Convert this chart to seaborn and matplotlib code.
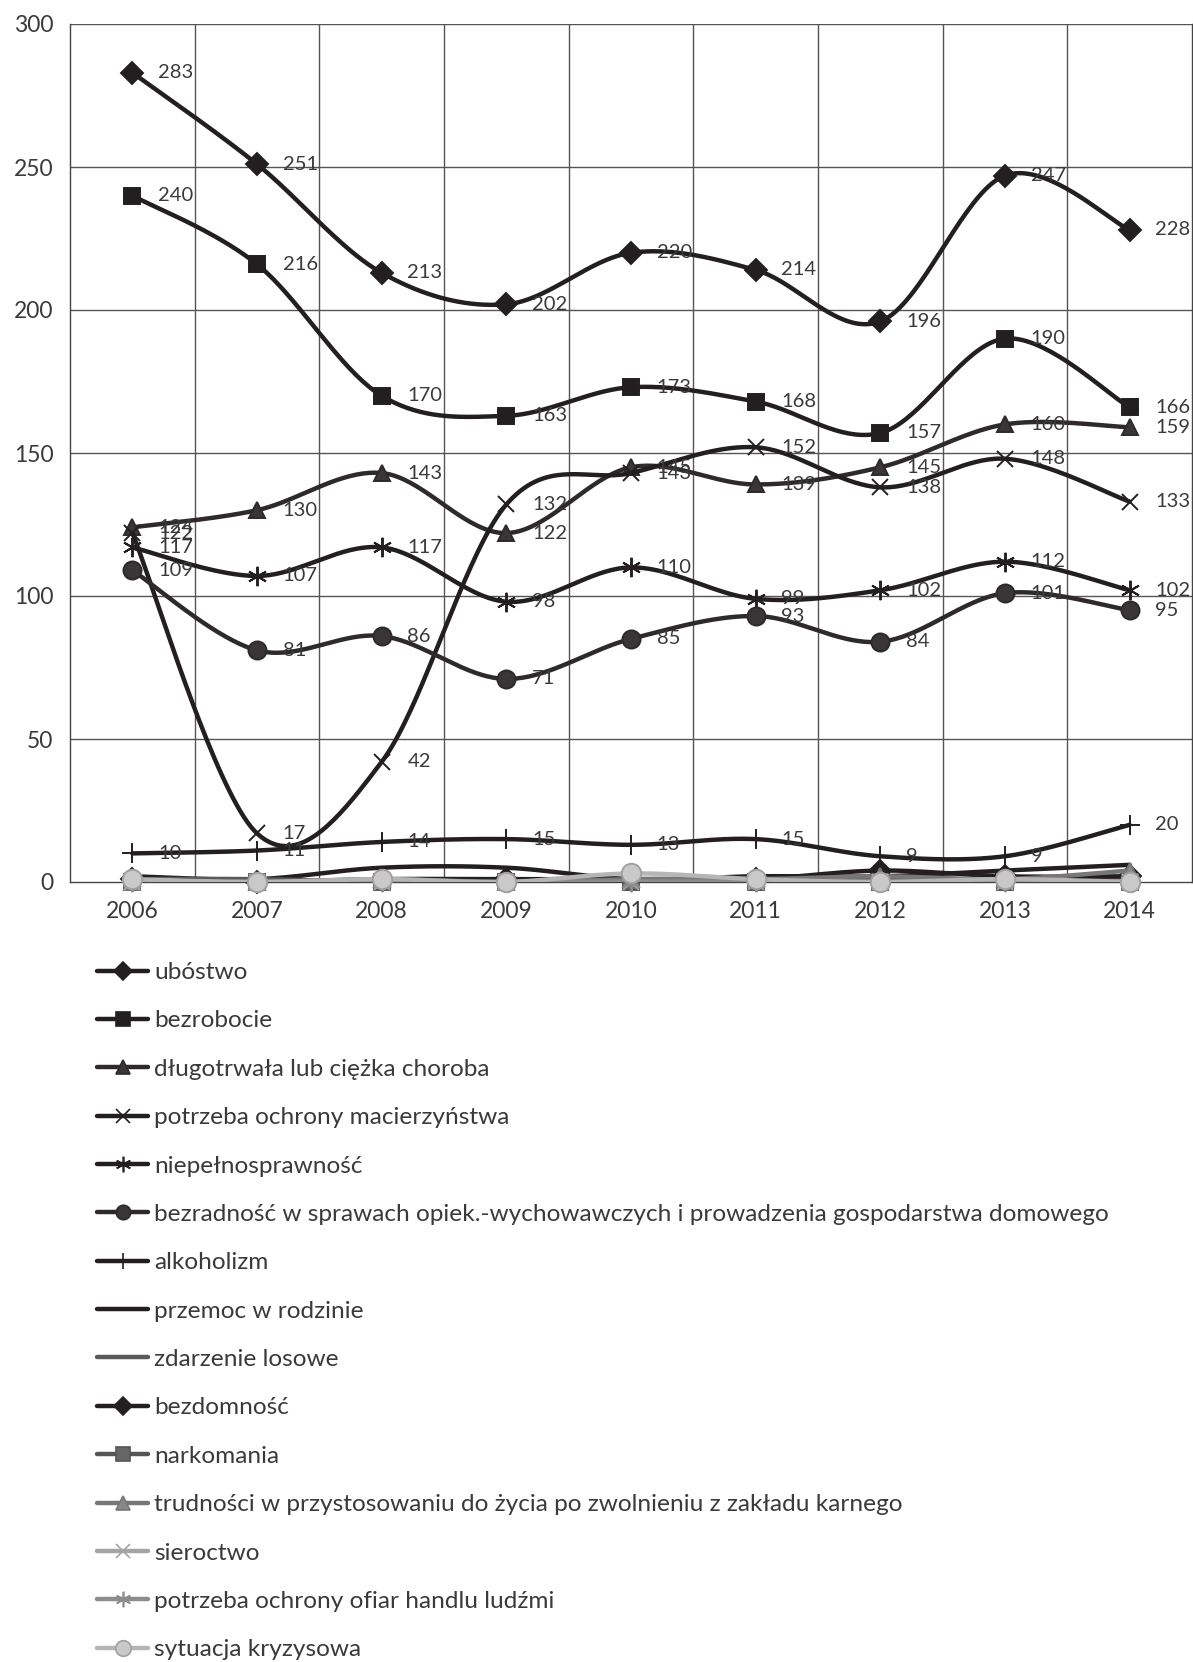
import numpy as np
import pandas as pd
import matplotlib
matplotlib.use("Agg")
import matplotlib.pyplot as plt
from matplotlib.lines import Line2D
import seaborn as sns

YEARS = ["2006", "2007", "2008", "2009", "2010", "2011", "2012", "2013", "2014"]

SERIES_NAMES = [
    "ubóstwo",
    "bezrobocie",
    "długotrwała lub ciężka choroba",
    "potrzeba ochrony macierzyństwa",
    "niepełnosprawność",
    "bezradność w sprawach opiek.-wychowawczych i prowadzenia gospodarstwa domowego",
    "alkoholizm",
    "przemoc w rodzinie",
    "zdarzenie losowe",
    "bezdomność",
    "narkomania",
    "trudności w przystosowaniu do życia po zwolnieniu z zakładu karnego",
    "sieroctwo",
    "potrzeba ochrony ofiar handlu ludźmi",
    "sytuacja kryzysowa",
]

ubostwo       = [283, 251, 213, 202, 220, 214, 196, 247, 228]
bezrobocie    = [240, 216, 170, 163, 173, 168, 157, 190, 166]
choroba       = [124, 130, 143, 122, 145, 139, 145, 160, 159]
macierzynstwo = [122, 17, 42, 132, 143, 152, 138, 148, 133]
niepelnospr   = [117, 107, 117, 98, 110, 99, 102, 112, 102]
bezradnosc    = [109, 81, 86, 71, 85, 93, 84, 101, 95]
alkoholizm    = [10, 11, 14, 15, 13, 15, 9, 9, 20]
przemoc       = [2, 1, 5, 5, 1, 2, 2, 4, 6]
zdarzenie     = [1, 1, 0, 0, 1, 1, 1, 1, 1]
bezdomnosc    = [1, 0, 1, 1, 1, 1, 4, 2, 2]
narkomania    = [0, 0, 0, 0, 0, 0, 0, 0, 0]
trudnosci     = [0, 0, 1, 0, 1, 1, 2, 1, 4]
sieroctwo     = [0, 0, 0, 0, 0, 0, 0, 0, 0]
handel        = [0, 0, 0, 0, 0, 0, 0, 0, 0]
kryzys        = [1, 0, 1, 0, 3, 1, 0, 1, 0]

ALL_VALUES = [ubostwo, bezrobocie, choroba, macierzynstwo, niepelnospr, bezradnosc,
              alkoholizm, przemoc, zdarzenie, bezdomnosc, narkomania, trudnosci,
              sieroctwo, handel, kryzys]
N_LABELED = 7

ASTER = (6, 2, 0)
# (kolor linii, marker, rozmiar, kolor wypelnienia, kolor krawedzi)
STYLES = [
    ("#231f20", "D", 11, "#231f20", "#231f20"),
    ("#231f20", "s", 12, "#231f20", "#231f20"),
    ("#2e2a2b", "^", 12, "#3a3637", "#2e2a2b"),
    ("#231f20", "x", 12, "none", "#231f20"),
    ("#231f20", ASTER, 14, "none", "#231f20"),
    ("#2e2a2b", "o", 13, "#3a3637", "#2e2a2b"),
    ("#231f20", "+", 15, "none", "#231f20"),
    ("#231f20", None, 0, "none", "#231f20"),
    ("#5a5a5a", None, 0, "none", "#5a5a5a"),
    ("#231f20", "D", 11, "#231f20", "#231f20"),
    ("#555555", "s", 12, "#666666", "#555555"),
    ("#777777", "^", 12, "#888888", "#777777"),
    ("#a5a5a5", "x", 12, "none", "#a5a5a5"),
    ("#8c8c8c", ASTER, 14, "none", "#8c8c8c"),
    ("#b5b5b5", "o", 14, "#c9c9c9", "#a0a0a0"),
]


def smooth(xs, ys, n=40):
    # wygladzenie jak w Excelu (Catmull-Rom -> Bezier)
    p = np.column_stack([xs, ys]).astype(float)
    pts = np.vstack([p[0], p, p[-1]])
    out = []
    t = np.linspace(0, 1, n)[:, None]
    for i in range(1, len(pts) - 2):
        p0, p1, p2, p3 = pts[i - 1], pts[i], pts[i + 1], pts[i + 2]
        c1 = p1 + (p2 - p0) / 6
        c2 = p2 - (p3 - p1) / 6
        seg = ((1 - t) ** 3) * p1 + 3 * ((1 - t) ** 2) * t * c1 + 3 * (1 - t) * t ** 2 * c2 + t ** 3 * p2
        out.append(seg if i == 1 else seg[1:])
    s = np.vstack(out)
    return s[:, 0], s[:, 1]


sns.set_theme(style="white")
plt.rcParams["font.family"] = ["Lato", "DejaVu Sans"]
TXT = "#3a3a3a"

fig = plt.figure(figsize=(11.93, 16.62), dpi=100)
ax = fig.add_axes([70 / 1193, 1 - 882 / 1662, 1122 / 1193, (882 - 24) / 1662])

x = np.arange(len(YEARS))
for k, (name, vals) in enumerate(zip(SERIES_NAMES, ALL_VALUES)):
    col, mk, ms, fc, ec = STYLES[k]
    sx, sy = smooth(x, vals)
    df = pd.DataFrame({"x": sx, "y": sy})
    sns.lineplot(data=df, x="x", y="y", sort=False, estimator=None, color=col,
                 lw=3.2, ax=ax, zorder=3 + k * 2)
    if mk is not None:
        ax.plot(x, vals, ls="none", marker=mk, ms=ms, mfc=fc, mec=ec, mew=1.4,
                zorder=4 + k * 2, clip_on=False)
    if k < N_LABELED:
        for xi, v in zip(x, vals):
            ax.annotate(str(v), (xi, v), xytext=(18.5, 0), textcoords="offset points",
                        va="center", ha="left", fontsize=14.5, color=TXT, zorder=40)

ax.set_xlim(-0.5, len(YEARS) - 0.5)
ax.set_ylim(0, 300)
ax.set_yticks(range(0, 301, 50))
ax.set_xticks(x)
ax.set_xticklabels(YEARS)
ax.set_xticks(np.arange(-0.5, len(YEARS), 1), minor=True)
ax.set_xlabel(""); ax.set_ylabel("")
ax.tick_params(axis="x", which="major", length=0, pad=14, labelsize=16.5, labelcolor=TXT)
ax.tick_params(axis="x", which="minor", length=6, width=1, color="#444444", direction="out")
ax.tick_params(axis="y", length=6, width=1, color="#444444", direction="out", pad=6,
               labelsize=16.5, labelcolor=TXT)
ax.grid(False)
for yv in range(50, 301, 50):
    ax.axhline(yv, color="#555555", lw=1, zorder=1)
for xv in np.arange(0.5, len(YEARS) - 0.5, 1):
    ax.axvline(xv, color="#555555", lw=1, zorder=1)
for sp in ["left", "bottom", "right"]:
    ax.spines[sp].set_color("#444444")
    ax.spines[sp].set_linewidth(1)
ax.spines["top"].set_visible(False)

handles = []
for k, name in enumerate(SERIES_NAMES):
    col, mk, ms, fc, ec = STYLES[k]
    handles.append(Line2D([], [], color=col, lw=3.2, marker=mk if mk is not None else "",
                          ms=ms * 0.8, mfc=fc, mec=ec, mew=1.2))
fig.legend(handles, SERIES_NAMES, loc="upper left", bbox_to_anchor=(97 / 1193, 1 - 962 / 1662),
           frameon=False, fontsize=17.6, handlelength=2.1, handletextpad=0.25,
           labelspacing=1.115, borderpad=0, borderaxespad=0, labelcolor=TXT)

fig.savefig("out.png", dpi=100, facecolor="white")
